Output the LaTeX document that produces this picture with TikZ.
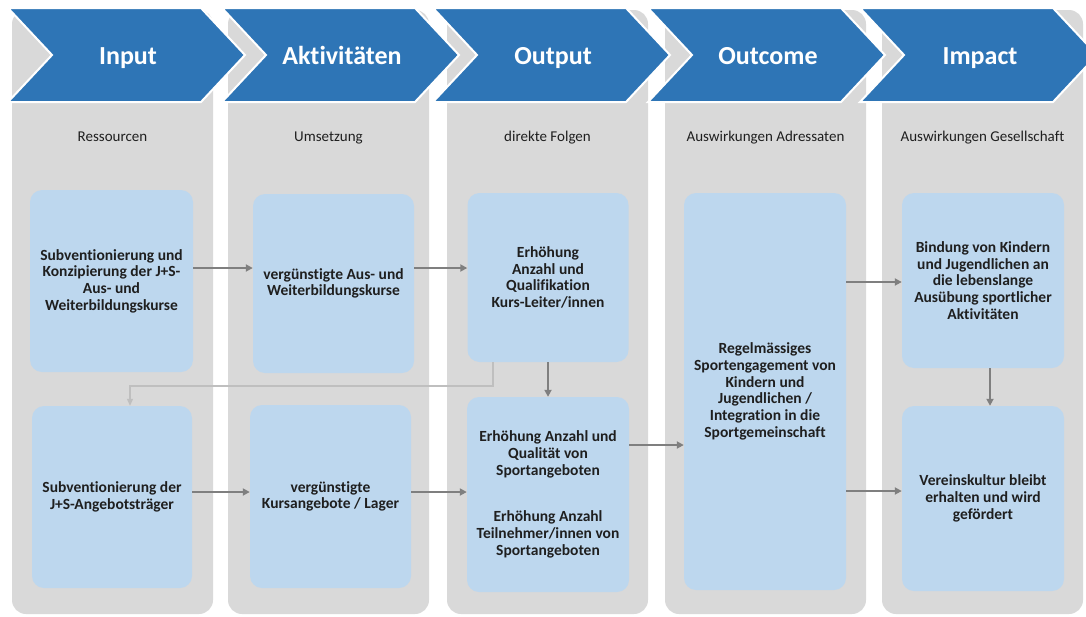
\documentclass[tikz,border=0pt]{standalone}
\usepackage{fontspec}
\setmainfont{Carlito}[Ligatures = CommonOff]
\usetikzlibrary{arrows.meta}
\definecolor{chevblue}{HTML}{2E75B6}
\definecolor{colgray}{HTML}{D9D9D9}
\definecolor{boxblue}{HTML}{BDD7EE}
\definecolor{arrgray}{HTML}{7F7F7F}
\definecolor{linegray}{HTML}{BFBFBF}
\definecolor{txt}{HTML}{1F1F1F}

\begin{document}
\begin{tikzpicture}[x = 1pt, y = -1pt,
	box/.style = {fill = boxblue, rounded corners = 12pt, align = center, text = txt, font = \bfseries\fontsize{15.5}{16.7}\selectfont},
	arr/.style = {draw = arrgray, line width = 2.4pt, -{Triangle[length = 7pt, width = 7pt]}},
	thinarr/.style = {draw = linegray, line width = 1.2pt, -{Triangle[length = 7pt, width = 6pt]}}]
	\useasboundingbox (0, 0) rectangle (1086, 616);
	\foreach \cx/\sub [count = \i] in {12/Ressourcen, 228/Umsetzung, 447/direkte Folgen, 665/Auswirkungen Adressaten, 882/Auswirkungen Gesellschaft} {
		\fill [colgray, rounded corners = 14pt] (\cx, 10) rectangle ++(201, 604);
		\node [anchor = base, text = txt, font = \fontsize{15}{17}\selectfont] (sub\i) at (\cx + 100.5, 141) {\sub};
	}
	\foreach \hx/\title [count = \i] in {8/Input, 222/Aktivitäten, 433/Output, 648/Outcome, 860/Impact} {
		\filldraw [fill = chevblue, draw = white, line width = 2pt] (\hx, 8) -- ++(193, 0) -- ++(44, 47) -- ++(-44, 47) -- ++(-193, 0) -- ++(44, -47) -- cycle;
		\node [anchor = base, white, font = \bfseries\fontsize{26}{30}\selectfont] (head\i) at (\hx + 120, 64) {\title};
	}
	\node [box, minimum width = 163pt, minimum height = 182pt] (in1) at (111.5, 281) {Subventionierung und\\Konzipierung der J+S-\\Aus- und\\Weiterbildungskurse};
	\node [box, minimum width = 160pt, minimum height = 182pt] (in2) at (112, 497) {Subventionierung der\\J+S-Angebotsträger};
	\node [box, minimum width = 161pt, minimum height = 179pt] (ak1) at (333.5, 283.5) {vergünstigte Aus- und\\Weiterbildungskurse};
	\node [box, minimum width = 161pt, minimum height = 183pt] (ak2) at (330.5, 496.5) {vergünstigte\\Kursangebote / Lager};
	\node [box, minimum width = 161pt, minimum height = 169pt] (out1) at (548, 277.5) {Erhöhung\\Anzahl und\\Qualifikation\\Kurs-Leiter/innen};
	\node [box, minimum width = 162pt, minimum height = 195pt] (out2) at (548, 494.5) {Erhöhung Anzahl und\\Qualität von\\Sportangeboten\\[30pt]Erhöhung Anzahl\\Teilnehmer/innen von\\Sportangeboten};
	\node [box, minimum width = 162pt, minimum height = 397pt] (oc) at (765, 391.5) {Regelmässiges\\Sportengagement von\\Kindern und\\Jugendlichen /\\Integration in die\\Sportgemeinschaft};
	\node [box, minimum width = 162pt, minimum height = 175pt] (im1) at (983, 280.5) {Bindung von Kindern\\und Jugendlichen an\\die lebenslange\\Ausübung sportlicher\\Aktivitäten};
	\node [box, minimum width = 162pt, minimum height = 185pt] (im2) at (983, 498.5) {Vereinskultur bleibt\\erhalten und wird\\gefördert};
	\draw [arr] (in1.east |- 0, 268) -- (ak1.west |- 0, 268);
	\draw [arr] (ak1.east |- 0, 268) -- (out1.west |- 0, 268);
	\draw [arr] (in2.east |- 0, 492) -- (ak2.west |- 0, 492);
	\draw [arr] (ak2.east |- 0, 492) -- (out2.west |- 0, 492);
	\draw [arr] (out1.south) -- (out2.north);
	\draw [arr] (out2.east |- 0, 445) -- (oc.west |- 0, 445);
	\draw [arr] (oc.east |- 0, 282) -- (im1.west |- 0, 282);
	\draw [arr] (oc.east |- 0, 491) -- (im2.west |- 0, 491);
	\draw [arr] ([xshift = 7pt]im1.south) -- ([xshift = 7pt]im2.north);
	\draw [thinarr] ([xshift = -55pt]out1.south) |- ([xshift = 18pt]in2.north |- 0, 386) -- ([xshift = 18pt]in2.north);
\end{tikzpicture}
\end{document}
